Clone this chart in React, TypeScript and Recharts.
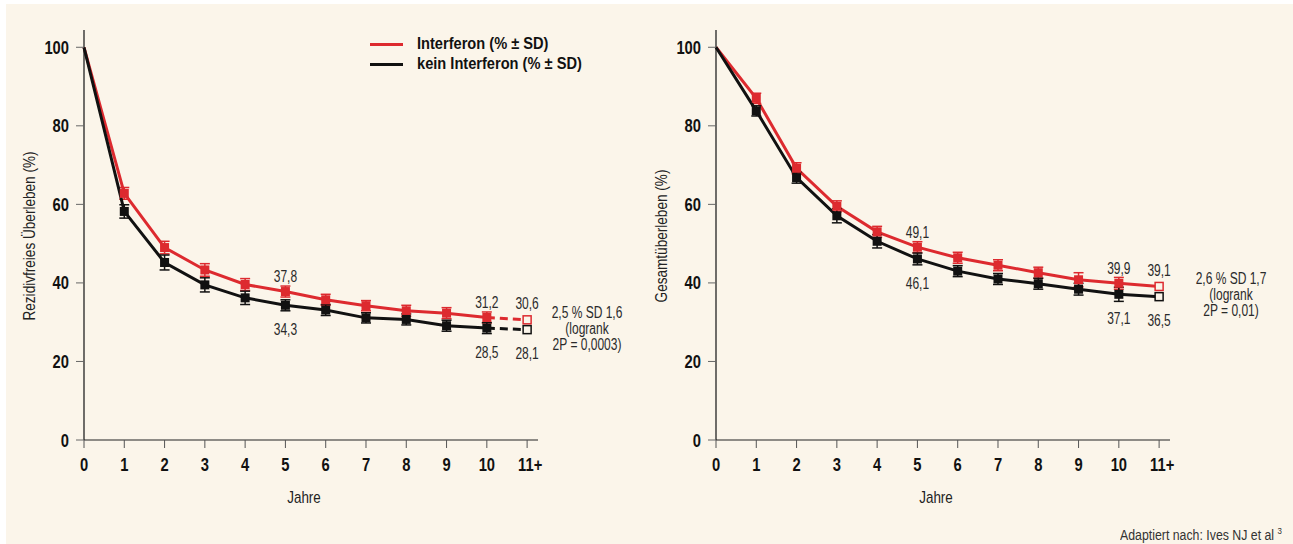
import React from "react";
import { LineChart, Line, XAxis, YAxis, ErrorBar, LabelList, Label } from "recharts";

const YEARS = [0, 1, 2, 3, 4, 5, 6, 7, 8, 9, 10, 11];
const Y_TICKS = [0, 20, 40, 60, 80, 100];
const LABEL_YEARS = [5, 10, 11];

// Rezidivfreies Überleben (%)
const RFS_IFN = [100, 62.8, 49.0, 43.3, 39.6, 37.8, 35.7, 34.2, 32.9, 32.3, 31.2, 30.6];
const RFS_KEIN = [100, 58.2, 45.2, 39.5, 36.2, 34.3, 33.1, 31.1, 30.7, 29.1, 28.5, 28.1];
const RFS_IFN_SD = [0, 1.5, 1.6, 1.6, 1.5, 1.4, 1.4, 1.3, 1.4, 1.4, 1.4, 0];
const RFS_KEIN_SD = [0, 1.7, 1.9, 1.8, 1.7, 1.4, 1.4, 1.3, 1.4, 1.4, 1.4, 0];

// Gesamtüberleben (%)
const OS_IFN = [100, 87.0, 69.2, 59.5, 53.0, 49.1, 46.4, 44.5, 42.6, 40.8, 39.9, 39.1];
const OS_KEIN = [100, 83.8, 66.8, 57.1, 50.6, 46.1, 43.0, 41.0, 39.8, 38.4, 37.1, 36.5];
const OS_IFN_SD = [0, 1.3, 1.4, 1.4, 1.4, 1.4, 1.4, 1.4, 1.4, 1.8, 1.5, 0];
const OS_KEIN_SD = [0, 1.3, 1.4, 1.8, 1.7, 1.5, 1.4, 1.4, 1.4, 1.5, 1.8, 0];

const RED = "#DD2A2F";
const BLACK = "#111111";
const CREAM = "#FBF5EA";
const FONT = '"Liberation Sans", Arial, sans-serif';

function buildRows(ifn: number[], kein: number[], ifnSd: number[], keinSd: number[]) {
  const last = YEARS.length - 1;
  return YEARS.map((year, i) => {
    const lab = LABEL_YEARS.includes(year);
    return {
      year,
      ifn: i < last ? ifn[i] : null,
      kein: i < last ? kein[i] : null,
      ifnTail: i >= last - 1 ? ifn[i] : null,
      keinTail: i >= last - 1 ? kein[i] : null,
      ifnSd: i < last ? ifnSd[i] : null,
      keinSd: i < last ? keinSd[i] : null,
      ifnLab: lab && i < last ? ifn[i] : null,
      keinLab: lab && i < last ? kein[i] : null,
      ifnTailLab: lab && i === last ? ifn[i] : null,
      keinTailLab: lab && i === last ? kein[i] : null,
    };
  });
}

const fmt = (v: number) => v.toFixed(1).replace(".", ",");

// condensed svg text: squeeze horizontally around the anchor point
function CText({
  x,
  y,
  sx,
  size,
  weight = 400,
  anchor = "middle",
  rotate = 0,
  fill = "#2a2a2a",
  children,
}: {
  x: number;
  y: number;
  sx: number;
  size: number;
  weight?: number;
  anchor?: "start" | "middle" | "end";
  rotate?: number;
  fill?: string;
  children: React.ReactNode;
}) {
  return (
    <text
      transform={`translate(${x} ${y}) rotate(${rotate}) scale(${sx} 1)`}
      x={0}
      y={0}
      textAnchor={anchor}
      dominantBaseline="central"
      fontFamily={FONT}
      fontSize={size}
      fontWeight={weight}
      fill={fill}
    >
      {children}
    </text>
  );
}

const squareDot = (color: string, tail: boolean) => (props: any) => {
  const { cx, cy, index } = props;
  const key = `${color}-${tail ? "t" : "m"}-${index}`;
  if (cy == null || Number.isNaN(cy)) return <g key={key} />;
  if (!tail) {
    if (index === 0) return <g key={key} />;
    return <rect key={key} x={cx - 4.5} y={cy - 4.5} width={9} height={9} fill={color} />;
  }
  if (index !== YEARS.length - 1) return <g key={key} />;
  return (
    <rect key={key} x={cx - 4} y={cy - 4} width={8} height={8} fill={CREAM} stroke={color} strokeWidth={1.5} />
  );
};

const valueLabel = (dy: number) => (props: any) => {
  const { x, y, value } = props;
  if (value == null || y == null) return null;
  return (
    <CText x={x} y={y + dy} sx={0.75} size={16}>
      {fmt(Number(value))}
    </CText>
  );
};

const XTick = (props: any) => {
  const { x, y, payload } = props;
  if (payload.value === 11) {
    return (
      <CText x={x - 9} y={y + 7} sx={0.82} size={18} weight={700} anchor="start" fill={BLACK}>
        11+
      </CText>
    );
  }
  return (
    <CText x={x} y={y + 7} sx={0.82} size={18} weight={700} fill={BLACK}>
      {payload.value}
    </CText>
  );
};

const YTick = (props: any) => {
  const { x, y, payload } = props;
  return (
    <CText x={x} y={y} sx={0.82} size={18} weight={700} anchor="end" fill={BLACK}>
      {payload.value}
    </CText>
  );
};

function SurvivalChart({
  rows,
  yTitle,
  left,
  width,
  dashedTail,
}: {
  rows: ReturnType<typeof buildRows>;
  yTitle: string;
  left: number;
  width: number;
  dashedTail: boolean;
}) {
  const plotRight = width - 454 - 84;
  return (
    <div style={{ position: "absolute", left, top: 0 }}>
      <LineChart
        width={width}
        height={544}
        data={rows}
        margin={{ top: 30, right: plotRight, bottom: 74, left: 0 }}
      >
        <XAxis
          dataKey="year"
          type="number"
          domain={[0, 11.27]}
          ticks={YEARS}
          interval={0}
          height={30}
          tickSize={8}
          tickMargin={9}
          tick={<XTick />}
          tickLine={{ stroke: "#555" }}
          axisLine={{ stroke: "#222", strokeWidth: 1.2 }}
        >
          <Label
            content={(p: any) => {
              const vb = p.viewBox;
              return (
                <CText x={vb.x + vb.width / 2 - 7} y={vb.y + 58} sx={0.84} size={16} fill="#222">
                  Jahre
                </CText>
              );
            }}
          />
        </XAxis>
        <YAxis
          type="number"
          domain={[0, 104.4]}
          ticks={Y_TICKS}
          interval={0}
          width={84}
          tickSize={8}
          tickMargin={7}
          tick={<YTick />}
          tickLine={{ stroke: "#666" }}
          axisLine={{ stroke: "#111", strokeWidth: 1.2 }}
        >
          <Label
            content={(p: any) => {
              const vb = p.viewBox;
              return (
                <CText
                  x={vb.x + 30}
                  y={vb.y + vb.height / 2 + 1}
                  sx={0.85}
                  size={16}
                  rotate={-90}
                  fill="#222"
                >
                  {yTitle}
                </CText>
              );
            }}
          />
        </YAxis>

        <Line
          dataKey="ifn"
          name="Interferon (% ± SD)"
          stroke={RED}
          strokeWidth={3}
          dot={squareDot(RED, false)}
          activeDot={false}
          isAnimationActive={false}
        >
          <ErrorBar dataKey="ifnSd" direction="y" width={5} stroke={RED} strokeWidth={1.5} />
          <LabelList dataKey="ifnLab" content={valueLabel(-15)} />
        </Line>
        <Line
          dataKey="ifnTail"
          stroke={RED}
          strokeWidth={3}
          strokeDasharray={dashedTail ? "8 5" : undefined}
          dot={squareDot(RED, true)}
          activeDot={false}
          legendType="none"
          isAnimationActive={false}
        >
          <LabelList dataKey="ifnTailLab" content={valueLabel(-16)} />
        </Line>
        <Line
          dataKey="kein"
          name="kein Interferon (% ± SD)"
          stroke={BLACK}
          strokeWidth={3}
          dot={squareDot(BLACK, false)}
          activeDot={false}
          isAnimationActive={false}
        >
          <ErrorBar dataKey="keinSd" direction="y" width={5} stroke={BLACK} strokeWidth={1.5} />
          <LabelList dataKey="keinLab" content={valueLabel(24)} />
        </Line>
        <Line
          dataKey="keinTail"
          stroke={BLACK}
          strokeWidth={3}
          strokeDasharray={dashedTail ? "8 5" : undefined}
          dot={squareDot(BLACK, true)}
          activeDot={false}
          legendType="none"
          isAnimationActive={false}
        >
          <LabelList dataKey="keinTailLab" content={valueLabel(24)} />
        </Line>
      </LineChart>
    </div>
  );
}

const LEGEND_ITEMS = [
  { label: "Interferon (% ± SD)", color: RED },
  { label: "kein Interferon (% ± SD)", color: BLACK },
];

const LEFT_STATS = ["2,5 % SD 1,6", "(logrank", "2P = 0,0003)"];
const RIGHT_STATS = ["2,6 % SD 1,7", "(logrank", "2P = 0,01)"];

function Stats({ lines, centerX, top }: { lines: string[]; centerX: number; top: number }) {
  return (
    <div
      style={{
        position: "absolute",
        left: centerX - 70,
        top,
        width: 140,
        textAlign: "center",
        fontFamily: FONT,
        fontSize: 16,
        lineHeight: "16px",
        color: "#2a2a2a",
        transform: "scaleX(0.75)",
        transformOrigin: "center",
      }}
    >
      {lines.map((l) => (
        <div key={l}>{l}</div>
      ))}
    </div>
  );
}

export default function App() {
  const rfsRows = buildRows(RFS_IFN, RFS_KEIN, RFS_IFN_SD, RFS_KEIN_SD);
  const osRows = buildRows(OS_IFN, OS_KEIN, OS_IFN_SD, OS_KEIN_SD);

  return (
    <div
      style={{
        position: "absolute",
        left: 0,
        top: 0,
        width: 1293,
        height: 544,
        background: "#ffffff",
        overflow: "hidden",
      }}
    >
      <div
        style={{
          position: "absolute",
          left: 6,
          top: 4,
          width: 1287,
          height: 540,
          background: CREAM,
        }}
      />
      <SurvivalChart rows={rfsRows} yTitle="Rezidivfreies Überleben (%)" left={0} width={650} dashedTail />
      <SurvivalChart rows={osRows} yTitle="Gesamtüberleben (%)" left={632} width={661} dashedTail={false} />

      {/* legend */}
      <div style={{ position: "absolute", left: 370, top: 34, fontFamily: FONT }}>
        {LEGEND_ITEMS.map((it) => (
          <div key={it.label} style={{ display: "flex", alignItems: "center", height: 20 }}>
            <div style={{ width: 33, height: 3, background: it.color, marginRight: 14 }} />
            <span
              style={{
                display: "inline-block",
                fontSize: 17,
                fontWeight: 700,
                color: BLACK,
                whiteSpace: "nowrap",
                transform: "scaleX(0.86)",
                transformOrigin: "left center",
              }}
            >
              {it.label}
            </span>
          </div>
        ))}
      </div>

      <Stats lines={LEFT_STATS} centerX={587} top={305} />
      <Stats lines={RIGHT_STATS} centerX={1231} top={271} />

      <div
        style={{
          position: "absolute",
          left: 1120,
          top: 522,
          fontFamily: FONT,
          fontSize: 14,
          lineHeight: "18px",
          color: "#333",
          whiteSpace: "nowrap",
          transform: "scaleX(0.88)",
          transformOrigin: "left center",
        }}
      >
        Adaptiert nach: Ives NJ et al <sup style={{ fontSize: 9 }}>3</sup>
      </div>
    </div>
  );
}
